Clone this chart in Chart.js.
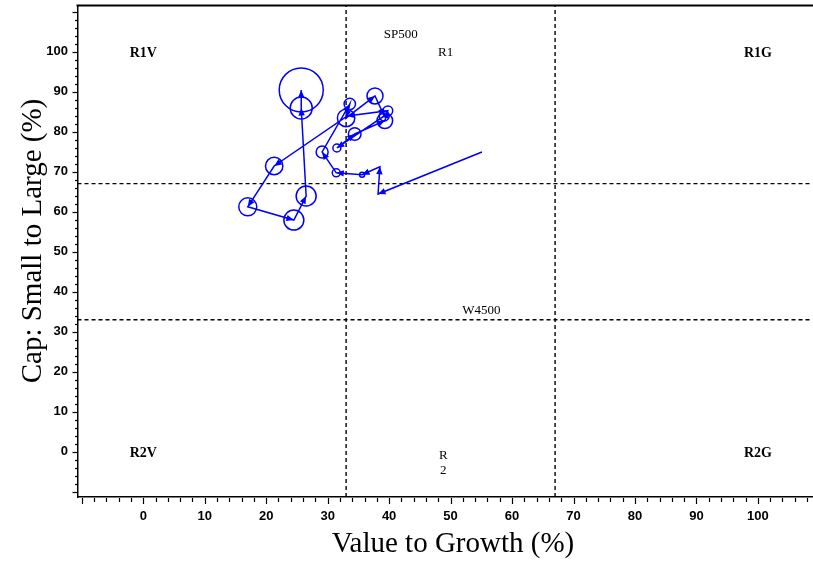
<!DOCTYPE html>
<html>
<head>
<meta charset="utf-8">
<script src="https://cdn.jsdelivr.net/npm/chart.js@4/dist/chart.umd.min.js"></script>
<style>
html,body{margin:0;padding:0;background:#fff;}
#wrap{width:813px;height:561px;position:relative;}
</style>
</head>
<body>
<div id="wrap"><canvas id="c" width="813" height="561"></canvas></div>
<script>
// ---- data ----
const valueToGrowth = [55.1, 38.2, 38.5, 35.6, 31.4, 29.1, 33.6, 33.0, 37.7, 39.2, 31.5, 34.4, 39.3, 39.8, 33.2, 21.3, 17.0, 24.5, 26.5, 25.7, 25.7];
const smallToLarge  = [74.9, 64.4, 71.2, 69.2, 69.7, 74.9, 86.9, 83.4, 88.9, 83.9, 75.9, 79.4, 82.7, 85.2, 83.9, 71.4, 61.2, 57.9, 63.9, 85.9, 90.4];
const bubbleRadius  = [0, 0, 0, 2.5, 4, 6, 5.7, 8.7, 8, 5, 4, 6.3, 7.8, 4.8, 0, 8.7, 9, 10, 10, 11, 22];

const xTickValues = [0, 10, 20, 30, 40, 50, 60, 70, 80, 90, 100];
const yTickValues = [0, 10, 20, 30, 40, 50, 60, 70, 80, 90, 100];
const boundaries = [33, 67];

const quadrantLabels = ['R1V', 'R1G', 'R2V', 'R2G'];
const quadrantX = [0, 100, 0, 100];
const quadrantY = [100, 100, 0, 0];

const indexLabels = ['SP500', 'R1', 'R', '2', 'W4500'];
const indexX = [41.9, 49.2, 48.8, 48.8, 55.0];
const indexY = [104.2, 99.8, -1, -4.6, 35.4];

const xTitle = 'Value to Growth (%)';
const yTitle = 'Cap: Small to Large (%)';

const X_MIN = -10.7, X_MAX = 108.8;
const Y_MIN = -11.3, Y_MAX = 111.5;

// ---- build datasets ----
const pathPoints = valueToGrowth.map((v, i) => ({x: v, y: smallToLarge[i]}));
const bubblePoints = valueToGrowth.map((v, i) => ({x: v, y: smallToLarge[i], r: bubbleRadius[i]}));

const BLUE = '#0000ff';
const datasets = [];
boundaries.forEach(b => {
  datasets.push({type: 'line', data: [{x: b, y: Y_MIN}, {x: b, y: Y_MAX}], borderColor: '#000', borderWidth: 1.4,
    borderDash: [4, 3], pointRadius: 0, fill: false, order: 5});
  datasets.push({type: 'line', data: [{x: X_MIN, y: b}, {x: X_MAX, y: b}], borderColor: '#000', borderWidth: 1.4,
    borderDash: [4, 3], pointRadius: 0, fill: false, order: 5});
});
datasets.push({type: 'line', data: pathPoints, borderColor: BLUE, borderWidth: 1.5, pointRadius: 0,
  fill: false, tension: 0, order: 2, isPath: true});
datasets.push({type: 'bubble', data: bubblePoints, borderColor: BLUE, backgroundColor: 'rgba(0,0,0,0)',
  borderWidth: 1.5, hoverRadius: 0, order: 1});

const decor = {
  id: 'decor',
  afterDatasetsDraw(chart) {
    const ctx = chart.ctx;
    const idx = chart.data.datasets.findIndex(d => d.isPath);
    const pts = chart.getDatasetMeta(idx).data;
    ctx.save();
    ctx.fillStyle = BLUE;
    for (let i = 1; i < pts.length; i++) {
      const a = pts[i - 1], b = pts[i];
      const dx = b.x - a.x, dy = b.y - a.y;
      const len = Math.hypot(dx, dy);
      if (len < 1) continue;
      const ux = dx / len, uy = dy / len;
      const L = 7.5, W = 3.2;
      const bx = b.x - ux * L, by = b.y - uy * L;
      ctx.beginPath();
      ctx.moveTo(b.x, b.y);
      ctx.lineTo(bx - uy * W, by + ux * W);
      ctx.lineTo(bx + uy * W, by - ux * W);
      ctx.closePath();
      ctx.fill();
    }
    ctx.restore();
  },
  afterDraw(chart) {
    const ctx = chart.ctx;
    const ca = chart.chartArea;
    const xs = chart.scales.x, ys = chart.scales.y;
    ctx.save();
    ctx.strokeStyle = '#000';
    // top frame line
    ctx.lineWidth = 2;
    ctx.beginPath();
    ctx.moveTo(ca.left - 1, ca.top);
    ctx.lineTo(ca.right + 1, ca.top);
    ctx.stroke();
    // tick marks
    ctx.lineWidth = 1.2;
    for (let v = -10; v <= 108; v += 2) {
      const px = Math.round(xs.getPixelForValue(v)) + 0.5;
      const major = v % 10 === 0;
      ctx.beginPath();
      ctx.moveTo(px, ca.bottom + 1);
      ctx.lineTo(px, ca.bottom + (major ? 7 : 5));
      ctx.stroke();
    }
    for (let v = -10; v <= 110; v += 2) {
      const py = Math.round(ys.getPixelForValue(v)) + 0.5;
      const major = v % 10 === 0;
      ctx.beginPath();
      ctx.moveTo(ca.left, py);
      ctx.lineTo(ca.left - (major ? 5 : 2.5), py);
      ctx.stroke();
    }
    // axis titles
    ctx.fillStyle = '#000';
    ctx.font = '29px "Liberation Serif", "Times New Roman", serif';
    ctx.textAlign = 'center';
    ctx.textBaseline = 'alphabetic';
    ctx.fillText(xTitle, 453, 552);
    ctx.save();
    ctx.translate(41, 241);
    ctx.rotate(-Math.PI / 2);
    ctx.fillText(yTitle, 0, 0);
    ctx.restore();
    // quadrant labels
    ctx.textBaseline = 'middle';
    ctx.font = 'bold 14px "Liberation Serif", "Times New Roman", serif';
    quadrantLabels.forEach((t, i) => {
      ctx.fillText(t, xs.getPixelForValue(quadrantX[i]), ys.getPixelForValue(quadrantY[i]) + 2);
    });
    ctx.font = '13px "Liberation Serif", "Times New Roman", serif';
    indexLabels.forEach((t, i) => {
      ctx.fillText(t, xs.getPixelForValue(indexX[i]), ys.getPixelForValue(indexY[i]));
    });
    ctx.restore();
  }
};

const tickFont = {family: '"Liberation Sans", Arial, sans-serif', weight: 'bold', size: 13};
const noPad = s => { s.paddingTop = 0; s.paddingBottom = 0; s.paddingLeft = 0; s.paddingRight = 0; };

new Chart(document.getElementById('c'), {
  type: 'scatter',
  data: {datasets},
  options: {
    responsive: false,
    animation: false,
    events: [],
    devicePixelRatio: 1,
    layout: {autoPadding: false, padding: {top: 5.5, right: 1, left: 0, bottom: 0}},
    plugins: {legend: {display: false}, tooltip: {enabled: false}},
    scales: {
      x: {
        type: 'linear', min: X_MIN, max: X_MAX,
        afterBuildTicks: s => { s.ticks = xTickValues.map(v => ({value: v})); },
        afterFit: s => { s.height = 64; noPad(s); },
        grid: {display: false, drawTicks: false},
        border: {display: true, color: '#000', width: 1.5},
        ticks: {font: tickFont, color: '#000', padding: 12, maxRotation: 0, autoSkip: false}
      },
      y: {
        type: 'linear', min: Y_MIN, max: Y_MAX,
        afterBuildTicks: s => { s.ticks = yTickValues.map(v => ({value: v})); },
        afterFit: s => { s.width = 77.5; noPad(s); },
        grid: {display: false, drawTicks: false},
        border: {display: true, color: '#000', width: 1.5},
        ticks: {font: tickFont, color: '#000', padding: 9.5, autoSkip: false}
      }
    }
  },
  plugins: [decor]
});
</script>
</body>
</html>
